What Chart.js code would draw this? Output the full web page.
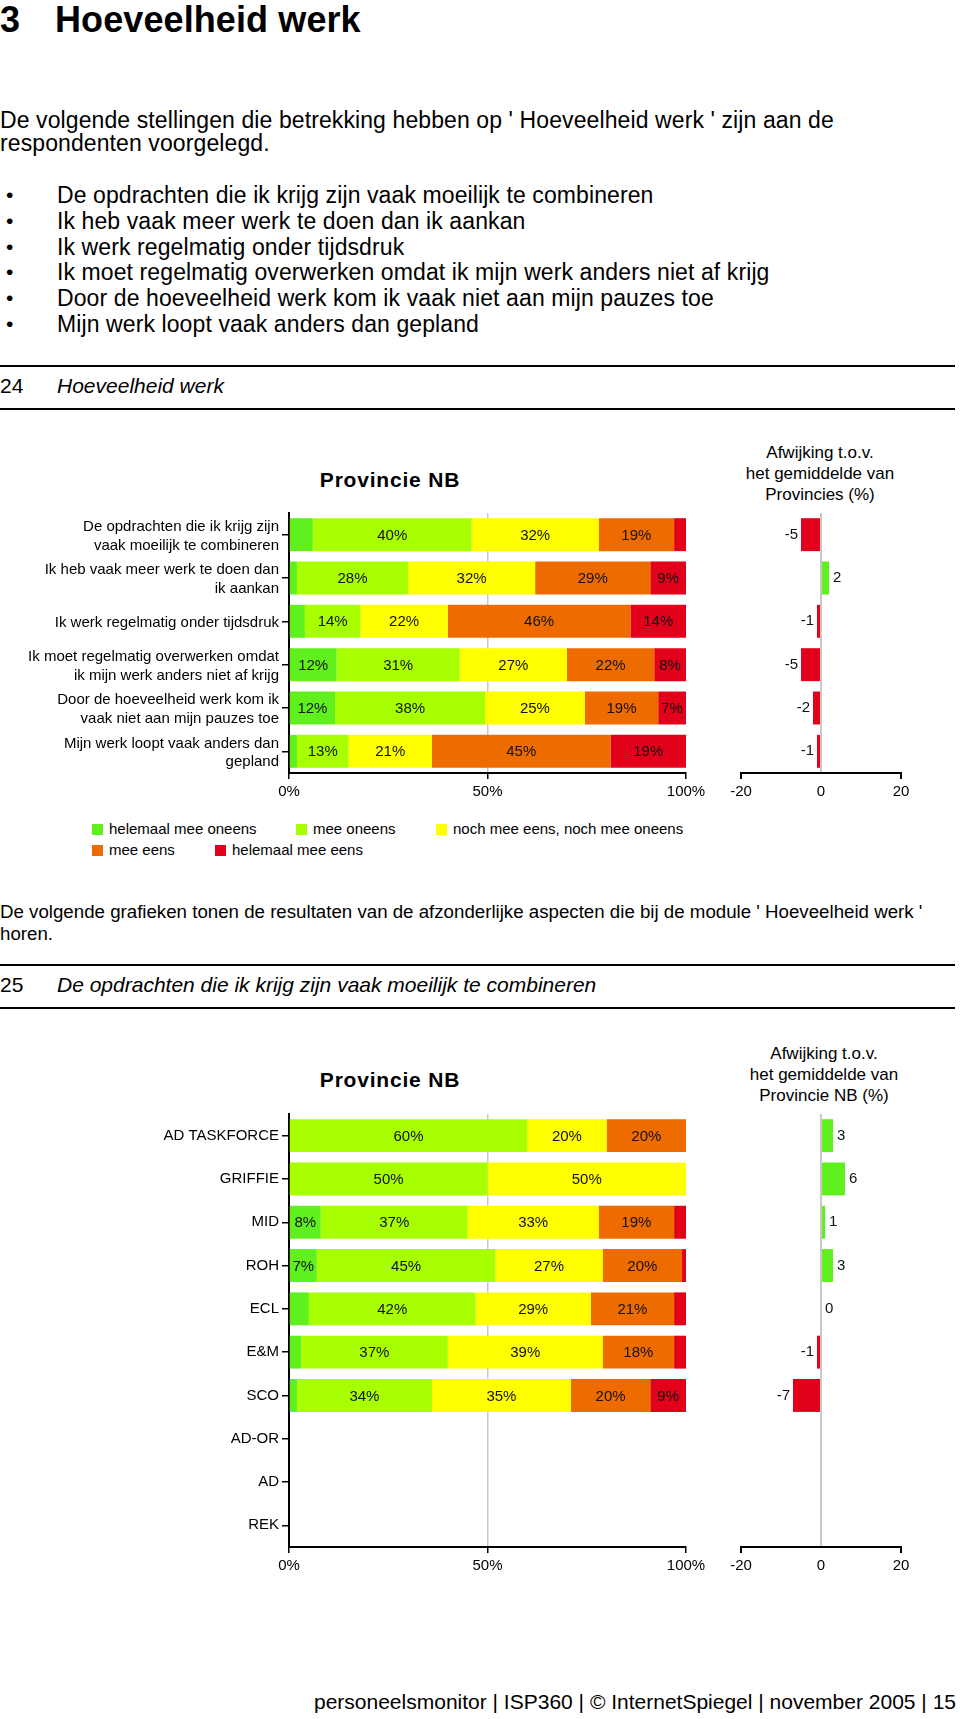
<!DOCTYPE html>
<html lang="nl">
<head>
<meta charset="utf-8">
<script src="https://cdn.jsdelivr.net/npm/chart.js@4.4.1/dist/chart.umd.min.js"></script>
<style>
  html, body { margin: 0; padding: 0; background: #fff; }
  body { width: 960px; height: 1719px; position: relative; overflow: hidden; font-family: "Liberation Sans", Arial, sans-serif; color: #000; }
  .t { position: absolute; white-space: nowrap; }
  .p1 { font-size: 23px; line-height: 24px; letter-spacing: 0.1px; }
  .h2 { font-size: 21px; line-height: 24px; }
  .p2 { font-size: 18.7px; line-height: 22px; }
  .rule { position: absolute; left: 0; width: 955px; height: 2px; background: #000; }
  .ct { position: absolute; text-align: center; white-space: nowrap; }
  .prov { font-weight: bold; font-size: 21px; line-height: 24px; letter-spacing: 0.8px; }
  .afw { font-size: 17px; line-height: 21px; }
  canvas { position: absolute; }
  .lg { position: absolute; font-size: 15px; line-height: 18px; white-space: nowrap; }
  .sq { position: absolute; width: 11px; height: 11px; }
</style>
</head>
<body>
<div class="t" style="left:0;top:1px;font-size:36px;line-height:38px;font-weight:bold;letter-spacing:0.1px">3</div>
<div class="t" style="left:55px;top:1px;font-size:36px;line-height:38px;font-weight:bold;letter-spacing:0.1px">Hoeveelheid werk</div>

<div class="t p1" style="left:0;top:108px">De volgende stellingen die betrekking hebben op ' Hoeveelheid werk ' zijn aan de</div>
<div class="t p1" style="left:0;top:131px">respondenten voorgelegd.</div>

<div id="bullets"></div>

<div class="rule" style="top:365px"></div>
<div class="t h2" style="left:0;top:374px">24</div>
<div class="t h2" style="left:57px;top:374px;font-style:italic">Hoeveelheid werk</div>
<div class="rule" style="top:408px"></div>

<div class="ct prov" style="left:290px;width:200px;top:468px">Provincie NB</div>
<div class="ct afw" style="left:720px;width:200px;top:442px">Afwijking t.o.v.<br>het gemiddelde van<br>Provincies (%)</div>

<canvas id="c1" style="left:0;top:500px" width="720" height="300"></canvas>
<canvas id="d1" style="left:720px;top:500px" width="240" height="300"></canvas>

<div id="legend"></div>

<div class="t p2" style="left:0;top:901px">De volgende grafieken tonen de resultaten van de afzonderlijke aspecten die bij de module ' Hoeveelheid werk '</div>
<div class="t p2" style="left:0;top:923px">horen.</div>

<div class="rule" style="top:964px"></div>
<div class="t h2" style="left:0;top:973px">25</div>
<div class="t h2" style="left:57px;top:973px;font-style:italic">De opdrachten die ik krijg zijn vaak moeilijk te combineren</div>
<div class="rule" style="top:1007px"></div>

<div class="ct prov" style="left:290px;width:200px;top:1068px">Provincie NB</div>
<div class="ct afw" style="left:724px;width:200px;top:1043px">Afwijking t.o.v.<br>het gemiddelde van<br>Provincie NB (%)</div>

<canvas id="c2" style="left:0;top:1100px" width="720" height="480"></canvas>
<canvas id="d2" style="left:720px;top:1100px" width="240" height="480"></canvas>

<div class="t h2" style="right:4px;top:1690px">personeelsmonitor | ISP360 | © InternetSpiegel | november 2005 | 15</div>

<script>
// ---------- DATA ----------
const bulletItems = [
  "De opdrachten die ik krijg zijn vaak moeilijk te combineren",
  "Ik heb vaak meer werk te doen dan ik aankan",
  "Ik werk regelmatig onder tijdsdruk",
  "Ik moet regelmatig overwerken omdat ik mijn werk anders niet af krijg",
  "Door de hoeveelheid werk kom ik vaak niet aan mijn pauzes toe",
  "Mijn werk loopt vaak anders dan gepland"
];

const seriesNames = ["helemaal mee oneens", "mee oneens", "noch mee eens, noch mee oneens", "mee eens", "helemaal mee eens"];

const statements = [
  ["De opdrachten die ik krijg zijn", "vaak moeilijk te combineren"],
  ["Ik heb vaak meer werk te doen dan", "ik aankan"],
  "Ik werk regelmatig onder tijdsdruk",
  ["Ik moet regelmatig overwerken omdat", "ik mijn werk anders niet af krijg"],
  ["Door de hoeveelheid werk kom ik", "vaak niet aan mijn pauzes toe"],
  ["Mijn werk loopt vaak anders dan", "gepland"]
];
const helemaalOneens1 = [6, 2, 4, 12, 11.6, 2];
const meeOneens1      = [40, 28, 14, 31, 37.8, 13];
const noch1           = [32, 32, 22, 27, 25.1, 21];
const meeEens1        = [19, 29, 46, 22, 18.5, 45];
const helemaalEens1   = [3, 9, 14, 8, 7, 19];
const afwijking1      = [-5, 2, -1, -5, -2, -1];

const units = ["AD TASKFORCE", "GRIFFIE", "MID", "ROH", "ECL", "E&M", "SCO", "AD-OR", "AD", "REK"];
const helemaalOneens2 = [0, 0, 8, 7, 5, 3, 2, null, null, null];
const meeOneens2      = [60, 50, 37, 45, 42, 37, 34, null, null, null];
const noch2           = [20, 50, 33, 27, 29, 39, 35, null, null, null];
const meeEens2        = [20, 0, 19, 20, 21, 18, 20, null, null, null];
const helemaalEens2   = [0, 0, 3, 1, 3, 3, 9, null, null, null];
const afwijking2      = [3, 6, 1, 3, 0, -1, -7, null, null, null];

const pctTicks = [0, 50, 100];
const devTicks = [-20, 0, 20];

// ---------- STYLE ----------
const colors = ["#5ff01e", "#a8ff00", "#ffff00", "#ee6b00", "#e2001a"];
const devPos = "#5ff01e", devNeg = "#e2001a";
const FONT = "Liberation Sans, Arial, sans-serif";

// bullets
const bEl = document.getElementById('bullets');
bulletItems.forEach((s, i) => {
  const top = 183 + i * 25.8;
  bEl.insertAdjacentHTML('beforeend',
    `<div class="t p1" style="left:6px;top:${top}px;font-size:21px">•</div><div class="t p1" style="left:57px;top:${top}px">${s}</div>`);
});

// legend
const lgPos = [[92, 824], [296, 824], [436, 824], [92, 845], [215, 845]];
const lgEl = document.getElementById('legend');
seriesNames.forEach((n, i) => {
  const [x, y] = lgPos[i];
  lgEl.insertAdjacentHTML('beforeend',
    `<div class="sq" style="left:${x}px;top:${y}px;background:${colors[i]}"></div><div class="lg" style="left:${x + 17}px;top:${y - 4}px">${n}</div>`);
});

Chart.defaults.font.family = FONT;
Chart.defaults.font.size = 15;
Chart.defaults.color = "#000";
Chart.defaults.animation = false;

const stackLabels = {
  id: 'stackLabels',
  afterDatasetsDraw(chart) {
    const ctx = chart.ctx;
    ctx.save();
    ctx.font = `15px ${FONT}`;
    ctx.fillStyle = '#111';
    ctx.textAlign = 'center';
    ctx.textBaseline = 'middle';
    chart.data.datasets.forEach((ds, di) => {
      const meta = chart.getDatasetMeta(di);
      meta.data.forEach((el, i) => {
        const v = ds.data[i];
        if (v == null || v < 7) return;
        ctx.fillText(Math.round(v) + '%', (el.x + el.base) / 2, el.y + 1);
      });
    });
    ctx.restore();
  }
};

const devLabels = {
  id: 'devLabels',
  afterDatasetsDraw(chart) {
    const ctx = chart.ctx;
    ctx.save();
    ctx.font = `15px ${FONT}`;
    ctx.fillStyle = '#111';
    ctx.textBaseline = 'middle';
    const ds = chart.data.datasets[0];
    chart.getDatasetMeta(0).data.forEach((el, i) => {
      const v = ds.data[i];
      if (v == null) return;
      if (v < 0) { ctx.textAlign = 'right'; ctx.fillText(String(v), el.x - 3, el.y); }
      else { ctx.textAlign = 'left'; ctx.fillText(String(v), el.x + 4, el.y); }
    });
    ctx.restore();
  }
};

function stackedChart(id, labels, series, padTop, axisHeight, labelOffset) {
  const datasets = series.map((d, i) => ({
    label: seriesNames[i], data: d, backgroundColor: colors[i], borderWidth: 0,
    barPercentage: 0.76, categoryPercentage: 1.0
  }));
  return new Chart(document.getElementById(id), {
    type: 'bar',
    data: { labels, datasets },
    options: {
      indexAxis: 'y', responsive: false,
      layout: { padding: { top: padTop, right: 34, left: 0, bottom: 0 } },
      plugins: { legend: { display: false }, tooltip: { enabled: false } },
      scales: {
        x: {
          stacked: true, min: 0, max: 100,
          afterBuildTicks: s => { s.ticks = pctTicks.map(v => ({ value: v })); },
          afterFit: s => { s.height = axisHeight; },
          ticks: { callback: v => v + '%', padding: 4, maxRotation: 0 },
          grid: {
            color: c => (c.tick && c.tick.value === 50) ? '#c8c8c8' : 'rgba(0,0,0,0)',
            tickColor: '#000', tickLength: 6, lineWidth: 1.5
          },
          border: { display: true, color: '#000', width: 2 }
        },
        y: {
          stacked: true,
          afterFit: s => { s.width = 289; s.paddingTop = 0; s.paddingBottom = 0; },
          ticks: { padding: 3, font: { size: 15, lineHeight: 1.25 }, autoSkip: false, labelOffset },
          grid: { offset: false, drawOnChartArea: false, color: '#000', tickLength: 7, lineWidth: 1.5 },
          border: { display: true, color: '#000', width: 2 }
        }
      }
    },
    plugins: [stackLabels]
  });
}

function devChart(id, labels, values, padTop, axisHeight) {
  return new Chart(document.getElementById(id), {
    type: 'bar',
    data: {
      labels,
      datasets: [{
        data: values,
        backgroundColor: values.map(v => v < 0 ? devNeg : devPos),
        borderWidth: 0, barPercentage: 0.76, categoryPercentage: 1.0
      }]
    },
    options: {
      indexAxis: 'y', responsive: false,
      layout: { padding: { top: padTop, right: 59, left: 21, bottom: 0 } },
      plugins: { legend: { display: false }, tooltip: { enabled: false } },
      scales: {
        x: {
          min: -20, max: 20,
          afterBuildTicks: s => { s.ticks = devTicks.map(v => ({ value: v })); },
          afterFit: s => { s.height = axisHeight; },
          ticks: { padding: 4, maxRotation: 0 },
          grid: {
            color: c => (c.tick && c.tick.value === 0) ? '#c8c8c8' : 'rgba(0,0,0,0)',
            tickColor: c => (c.tick && c.tick.value === 0) ? 'rgba(0,0,0,0)' : '#000',
            tickLength: 6, lineWidth: 2
          },
          border: { display: true, color: '#000', width: 2 }
        },
        y: { display: false }
      }
    },
    plugins: [devLabels]
  });
}

stackedChart('c1', statements, [helemaalOneens1, meeOneens1, noch1, meeEens1, helemaalEens1], 13, 27, 1.5);
devChart('d1', statements, afwijking1, 13, 27);
stackedChart('c2', units, [helemaalOneens2, meeOneens2, noch2, meeEens2, helemaalEens2], 14, 33, 0);
devChart('d2', units, afwijking2, 14, 33);
</script>
</body>
</html>
